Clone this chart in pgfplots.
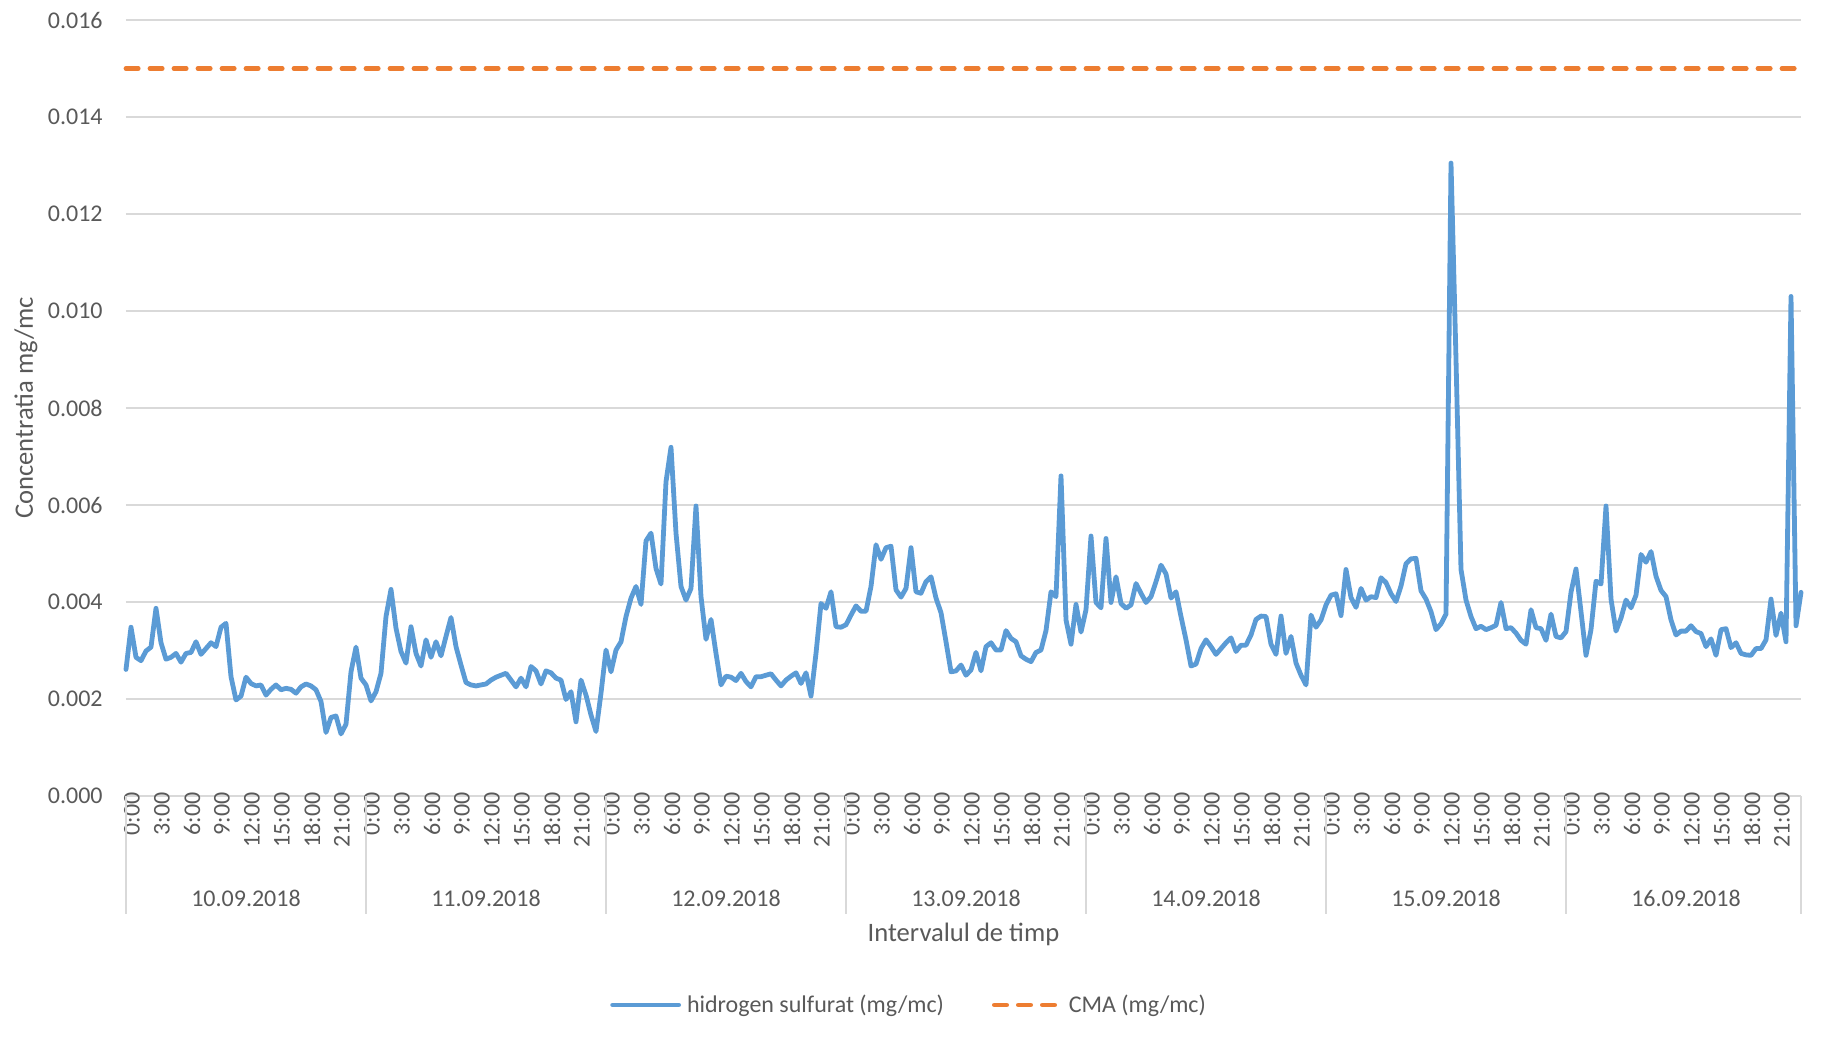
\documentclass[border=0pt]{standalone}
\usepackage{fontspec}
\setmainfont{Carlito}
\usepackage{pgfplots}
\pgfplotsset{compat=1.18}
\definecolor{hblue}{HTML}{5B9BD5}
\definecolor{corange}{HTML}{ED7D31}
\definecolor{gridc}{HTML}{D9D9D9}
\definecolor{txt}{HTML}{595959}
\newcommand{\tfont}{\fontsize{12bp}{14bp}\selectfont}
\newcommand{\lfont}{\fontsize{13.3bp}{15bp}\selectfont}
\begin{document}
\begin{tikzpicture}
\begin{axis}[
  scale only axis,
  width=837.5bp, height=388bp,
  at={(0,0)}, anchor=south west,
  xmin=0, xmax=335,
  ymin=0, ymax=0.016,
  ytick={0,0.002,0.004,0.006,0.008,0.010,0.012,0.014,0.016},
  scaled y ticks=false,
  yticklabel style={/pgf/number format/fixed, /pgf/number format/fixed zerofill, /pgf/number format/precision=3, /pgf/number format/assume math mode=true,
    font=\tfont, text=txt, anchor=east, inner sep=0pt, xshift=-11.5bp},
  xtick={0,6,...,330},
  xticklabels={0:00,3:00,6:00,9:00,12:00,15:00,18:00,21:00,
               0:00,3:00,6:00,9:00,12:00,15:00,18:00,21:00,
               0:00,3:00,6:00,9:00,12:00,15:00,18:00,21:00,
               0:00,3:00,6:00,9:00,12:00,15:00,18:00,21:00,
               0:00,3:00,6:00,9:00,12:00,15:00,18:00,21:00,
               0:00,3:00,6:00,9:00,12:00,15:00,18:00,21:00,
               0:00,3:00,6:00,9:00,12:00,15:00,18:00,21:00},
  xticklabel style={font=\tfont, text=txt, rotate=90, anchor=east, inner sep=0pt, yshift=-3bp, xshift=2bp},
  major tick length=0pt,
  axis line style={draw=none},
  ymajorgrids, grid style={gridc, line width=0.75bp},
  clip=false,
  xlabel={Intervalul de timp},
  xlabel style={font=\lfont, text=txt, at={(axis description cs:0.5,-0.1778)}, anchor=center},
  ylabel={Concentratia mg/mc},
  ylabel style={font=\lfont, text=txt, at={(axis description cs:-0.0597,0.5)}, anchor=center, rotate=0},
  legend columns=2,
  legend style={draw=none, fill=none, at={(axis description cs:0.4687,-0.2693)}, anchor=center,
    font=\tfont, text=txt, /tikz/every even column/.append style={column sep=21bp},
    nodes={inner xsep=3bp}},
  legend image code/.code={\draw[#1] (0bp,0bp) -- (33bp,0bp);},
]
\addplot[hblue, line width=2.4bp, line join=round, line cap=round] coordinates {
(0,0.00261)(1,0.00348)(2,0.00286)(3,0.00279)(4,0.00299)(5,0.00307)(6,0.00387)(7,0.00316)
(8,0.00282)(9,0.00286)(10,0.00294)(11,0.00276)(12,0.00294)(13,0.00296)(14,0.00318)(15,0.00292)
(16,0.00304)(17,0.00316)(18,0.00308)(19,0.00348)(20,0.00356)(21,0.00246)(22,0.00198)(23,0.00206)
(24,0.00245)(25,0.00232)(26,0.00227)(27,0.00229)(28,0.00208)(29,0.00220)(30,0.00229)(31,0.00219)
(32,0.00222)(33,0.00220)(34,0.00212)(35,0.00225)(36,0.00231)(37,0.00227)(38,0.00219)(39,0.00195)
(40,0.00131)(41,0.00162)(42,0.00165)(43,0.00128)(44,0.00148)(45,0.00256)(46,0.00307)(47,0.00243)
(48,0.00229)(49,0.00196)(50,0.00215)(51,0.00253)(52,0.00370)(53,0.00426)(54,0.00346)(55,0.00298)
(56,0.00274)(57,0.00349)(58,0.00294)(59,0.00268)(60,0.00322)(61,0.00286)(62,0.00318)(63,0.00289)
(64,0.00329)(65,0.00368)(66,0.00308)(67,0.00270)(68,0.00234)(69,0.00229)(70,0.00227)(71,0.00229)
(72,0.00231)(73,0.00239)(74,0.00245)(75,0.00249)(76,0.00253)(77,0.00239)(78,0.00225)(79,0.00243)
(80,0.00225)(81,0.00267)(82,0.00258)(83,0.00231)(84,0.00258)(85,0.00254)(86,0.00243)(87,0.00239)
(88,0.00199)(89,0.00215)(90,0.00153)(91,0.00239)(92,0.00208)(93,0.00167)(94,0.00133)(95,0.00212)
(96,0.00301)(97,0.00256)(98,0.00301)(99,0.00318)(100,0.00370)(101,0.00408)(102,0.00432)(103,0.00395)
(104,0.00526)(105,0.00542)(106,0.00469)(107,0.00437)(108,0.00648)(109,0.00719)(110,0.00542)(111,0.00432)
(112,0.00404)(113,0.00428)(114,0.00598)(115,0.00411)(116,0.00323)(117,0.00364)(118,0.00294)(119,0.00229)
(120,0.00247)(121,0.00245)(122,0.00238)(123,0.00253)(124,0.00236)(125,0.00225)(126,0.00246)(127,0.00246)
(128,0.00249)(129,0.00252)(130,0.00239)(131,0.00227)(132,0.00239)(133,0.00247)(134,0.00254)(135,0.00232)
(136,0.00254)(137,0.00206)(138,0.00294)(139,0.00397)(140,0.00387)(141,0.00421)(142,0.00349)(143,0.00348)
(144,0.00353)(145,0.00373)(146,0.00392)(147,0.00381)(148,0.00381)(149,0.00432)(150,0.00518)(151,0.00488)
(152,0.00512)(153,0.00515)(154,0.00425)(155,0.00410)(156,0.00428)(157,0.00512)(158,0.00421)(159,0.00418)
(160,0.00442)(161,0.00452)(162,0.00408)(163,0.00378)(164,0.00318)(165,0.00256)(166,0.00258)(167,0.00270)
(168,0.00249)(169,0.00260)(170,0.00296)(171,0.00258)(172,0.00308)(173,0.00316)(174,0.00301)(175,0.00301)
(176,0.00341)(177,0.00325)(178,0.00318)(179,0.00289)(180,0.00282)(181,0.00277)(182,0.00296)(183,0.00301)
(184,0.00341)(185,0.00421)(186,0.00411)(187,0.00660)(188,0.00363)(189,0.00313)(190,0.00395)(191,0.00338)
(192,0.00384)(193,0.00536)(194,0.00399)(195,0.00388)(196,0.00531)(197,0.00399)(198,0.00452)(199,0.00397)
(200,0.00387)(201,0.00394)(202,0.00438)(203,0.00418)(204,0.00399)(205,0.00411)(206,0.00442)(207,0.00476)
(208,0.00458)(209,0.00408)(210,0.00421)(211,0.00370)(212,0.00322)(213,0.00268)(214,0.00272)(215,0.00304)
(216,0.00322)(217,0.00308)(218,0.00292)(219,0.00304)(220,0.00316)(221,0.00326)(222,0.00298)(223,0.00311)
(224,0.00311)(225,0.00332)(226,0.00364)(227,0.00371)(228,0.00370)(229,0.00313)(230,0.00292)(231,0.00371)
(232,0.00294)(233,0.00329)(234,0.00274)(235,0.00249)(236,0.00229)(237,0.00373)(238,0.00348)(239,0.00363)
(240,0.00394)(241,0.00414)(242,0.00417)(243,0.00372)(244,0.00467)(245,0.00409)(246,0.00389)(247,0.00428)
(248,0.00404)(249,0.00411)(250,0.00409)(251,0.00450)(252,0.00440)(253,0.00417)(254,0.00401)(255,0.00433)
(256,0.00479)(257,0.00489)(258,0.00490)(259,0.00423)(260,0.00406)(261,0.00380)(262,0.00343)(263,0.00355)
(264,0.00375)(265,0.01305)(266,0.00900)(267,0.00467)(268,0.00404)(269,0.00370)(270,0.00345)(271,0.00350)
(272,0.00343)(273,0.00347)(274,0.00352)(275,0.00399)(276,0.00345)(277,0.00347)(278,0.00336)(279,0.00321)
(280,0.00313)(281,0.00384)(282,0.00347)(283,0.00345)(284,0.00321)(285,0.00375)(286,0.00329)(287,0.00326)
(288,0.00339)(289,0.00420)(290,0.00468)(291,0.00380)(292,0.00290)(293,0.00343)(294,0.00443)(295,0.00437)
(296,0.00598)(297,0.00406)(298,0.00340)(299,0.00367)(300,0.00404)(301,0.00388)(302,0.00414)(303,0.00498)
(304,0.00482)(305,0.00504)(306,0.00453)(307,0.00424)(308,0.00411)(309,0.00363)(310,0.00332)(311,0.00340)
(312,0.00340)(313,0.00351)(314,0.00339)(315,0.00335)(316,0.00308)(317,0.00324)(318,0.00290)(319,0.00343)
(320,0.00345)(321,0.00306)(322,0.00316)(323,0.00294)(324,0.00291)(325,0.00290)(326,0.00304)(327,0.00304)
(328,0.00322)(329,0.00406)(330,0.00331)(331,0.00377)(332,0.00318)(333,0.01030)(334,0.00351)(335,0.00420)
};
\addlegendentry{hidrogen sulfurat (mg/mc)}
\addplot[corange, line width=2.4bp, line cap=round, dash pattern=on 6.1bp off 5.9bp] coordinates {(0,0.015) (335,0.015)};
\addlegendentry{CMA (mg/mc)}
% day separators and labels
\pgfplotsinvokeforeach{0,48,96,144,192,240,288,335}{
  \draw[gridc, line width=0.75bp] (axis cs:#1,0) -- ++(0,-59bp);
}
\node[font=\tfont, text=txt] at ([yshift=-51bp]axis cs:24,0) {10.09.2018};
\node[font=\tfont, text=txt] at ([yshift=-51bp]axis cs:72,0) {11.09.2018};
\node[font=\tfont, text=txt] at ([yshift=-51bp]axis cs:120,0) {12.09.2018};
\node[font=\tfont, text=txt] at ([yshift=-51bp]axis cs:168,0) {13.09.2018};
\node[font=\tfont, text=txt] at ([yshift=-51bp]axis cs:216,0) {14.09.2018};
\node[font=\tfont, text=txt] at ([yshift=-51bp]axis cs:264,0) {15.09.2018};
\node[font=\tfont, text=txt] at ([yshift=-51bp]axis cs:312,0) {16.09.2018};
\end{axis}
\path[use as bounding box] (-63bp,-124bp) rectangle (848bp,398bp);
\end{tikzpicture}
\end{document}
